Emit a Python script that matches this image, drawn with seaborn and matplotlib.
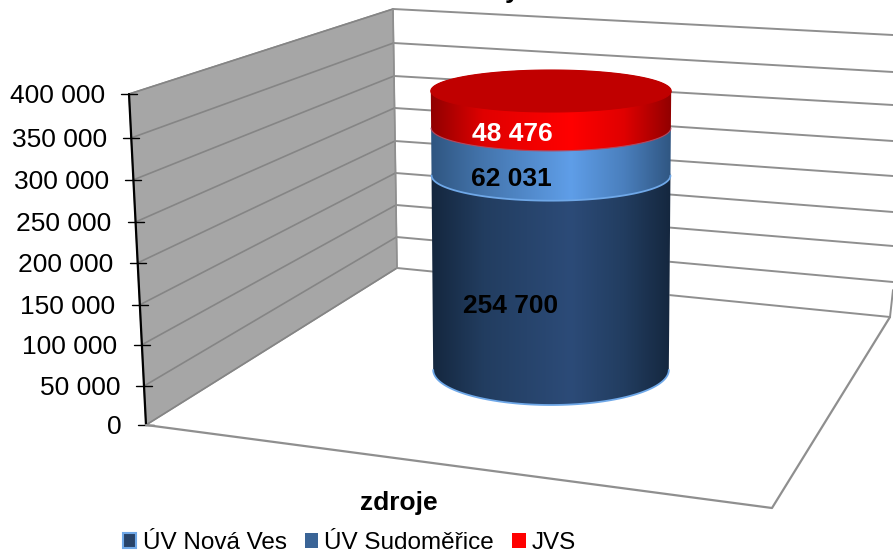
import numpy as np
import pandas as pd
import matplotlib
matplotlib.use('Agg')
import matplotlib.pyplot as plt
import seaborn as sns
from matplotlib.colors import LinearSegmentedColormap
from matplotlib.patches import Patch, Polygon
#
# Data
series_names = ['ÚV Nová Ves', 'ÚV Sudoměřice', 'JVS']
series_values = [254700, 62031, 48476]
value_labels = ['254 700', '62 031', '48 476']
tick_labels = ['400 000', '350 000', '300 000', '250 000', '200 000', '150 000', '100 000', '50 000', '0']
x_title = 'zdroje'
category = ['zdroje']
#
sns.set_theme(style='white')
plt.rcParams['font.family'] = ['Liberation Sans', 'DejaVu Sans']
#
fig = plt.figure(figsize=(8.93, 5.54), dpi=100, facecolor='white')
# background axes in pixels, for the 3d walls and floor
bg = fig.add_axes([0, 0, 1, 1], zorder=0)
bg.set_xlim(0, 893)
bg.set_ylim(554, 0)
bg.set_axis_off()
#
wall_grey = '#a6a6a6'
line_grey = '#8f8f8f'
tick_y = np.array([94, 138, 180, 222, 263, 305, 345, 386, 425])
tick_x = np.array([129, 131, 133, 135.5, 137.5, 139.5, 141.5, 144, 146])
back_left_y = np.array([9, 43, 76, 108, 141, 173, 205, 237, 268])
back_left_x = np.linspace(393, 397, 9)
back_right_y = np.array([35, 72, 105, 141, 176, 212, 246, 282, 317])
# left wall
bg.add_patch(Polygon([(tick_x[0], tick_y[0]), (393, 9), (397, 268), (tick_x[-1], tick_y[-1])], closed=True, facecolor=wall_grey, edgecolor=line_grey, lw=1))
for i in range(9):
    bg.plot([tick_x[i], back_left_x[i]], [tick_y[i], back_left_y[i]], color='#858585', lw=1.2)
    # back wall grid
    x_end = 893 if i < 8 else 890
    bg.plot([back_left_x[i], x_end], [back_left_y[i], back_right_y[i]], color=line_grey, lw=1.4)
    # y axis ticks and labels
    bg.plot([tick_x[i] - 8, tick_x[i] + 8], [tick_y[i], tick_y[i]], color='black', lw=1)
    bg.text(tick_x[i] - 24, tick_y[i] + 2, tick_labels[i], ha='right', va='center', fontsize=19, color='black')
bg.plot([393, 397], [9, 268], color=line_grey, lw=1.2)
bg.plot(tick_x[[0, -1]], tick_y[[0, -1]], color='black', lw=1.6)
# floor and right edge
bg.plot([890, 893], [317, 290], color=line_grey, lw=1.4)
bg.plot([146, 772, 890], [425, 508, 317], color=line_grey, lw=1.6)
# cut off title, only the tail of one letter shows
bg.text(512, -2, 'y', ha='center', va='baseline', fontsize=19, fontweight='bold', color='black')
bg.text(399, 503, x_title, ha='center', va='center', fontsize=19, fontweight='bold', color='black')
#
# cylinder axes: x is the category, y is in the chart's values
ax = fig.add_axes([0, 0, 1, 1], zorder=1)
df = pd.DataFrame({'cat': category * 3, 'name': series_names, 'val': series_values})
df['lo'] = df['val'].cumsum() - df['val']
df['hi'] = df['val'].cumsum()
total = df['hi'].max()
px_val = total / 279
px_x = 238
base_colours = ['#274369', '#4f81bd', '#e00000']
# stacked bars, tallest first so the shorter ones stay in front
for i in [2, 1, 0]:
    sns.barplot(data=df.iloc[[i]], x='cat', y='hi', color=base_colours[i], width=0.98, saturation=1, ax=ax)
#
def half_w(v):
    return 0.495 + 0.01 * v / total
#
def ell_h(v):
    return (35 - 14 * v / total) * px_val
#
def arc(v, t):
    return np.column_stack([half_w(v) * np.cos(t), v + ell_h(v) * np.sin(t)])
#
ramps = [['#14263d', '#223d60', '#2c4b78', '#223d60', '#14263d'],
         ['#2f5580', '#4475ad', '#5f9ee8', '#4a7fbd', '#2f5580'],
         ['#8f0000', '#e00000', '#ff0000', '#e00000', '#8f0000']]
edges = ['#6fa8e8', '#6fa8e8', '#b04a60']
edge_w = [1.3, 1.3, 0.8]
low = np.linspace(np.pi, 2 * np.pi, 80)
up = np.linspace(0, np.pi, 80)
grad = np.linspace(0, 1, 256).reshape(1, -1)
for i, row in df.iterrows():
    cmap = LinearSegmentedColormap.from_list('c%d' % i, list(zip([0, 0.22, 0.58, 0.8, 1], ramps[i])))
    shape = np.vstack([arc(row['lo'], low), arc(row['hi'], up)])
    im = ax.imshow(grad, cmap=cmap, extent=(-0.51, 0.51, row['lo'] - 60000, row['hi'] + 60000), aspect='auto', zorder=3 + i)
    im.set_clip_path(Polygon(shape, closed=True, transform=ax.transData))
    edge = arc(row['lo'], low)
    ax.plot(edge[:, 0], edge[:, 1], color=edges[i], lw=edge_w[i], zorder=3 + i)
# top of the cylinder
t = np.linspace(0, 2 * np.pi, 160)
ax.add_patch(Polygon(arc(total, t), closed=True, facecolor='#c00000', edgecolor='#c00000', lw=0.8, zorder=7))
# y mapped so value 0 sits at pixel 370 and the total at pixel 91
ax.set_xlim(-551 / px_x, (893 - 551) / px_x)
ax.set_ylim((370 - 554) * px_val, 370 * px_val)
ax.set_axis_off()
ax.patch.set_alpha(0)
#
# value labels
label_pos = [(511, 306, 'black'), (511, 179, 'black'), (512, 134, 'white')]
for (x, y, c), s in zip(label_pos, value_labels):
    ax.text(x, y, s, transform=bg.transData, ha='center', va='center', fontsize=19, fontweight='bold', color=c, zorder=9)
#
handles = [Patch(facecolor='#274369', edgecolor='#6fa8e8', lw=1.5),
           Patch(facecolor='#3a6496', edgecolor='none'),
           Patch(facecolor='#ff0000', edgecolor='none')]
fig.legend(handles, series_names, loc='center', bbox_to_anchor=(349.5 / 893, 1 - 543 / 554), ncol=3, frameon=False,
           fontsize=17.5, handlelength=0.55, handleheight=0.6, handletextpad=0.25, columnspacing=0.75, borderpad=0, labelcolor='black')
#
fig.savefig('out.png', dpi=100)
